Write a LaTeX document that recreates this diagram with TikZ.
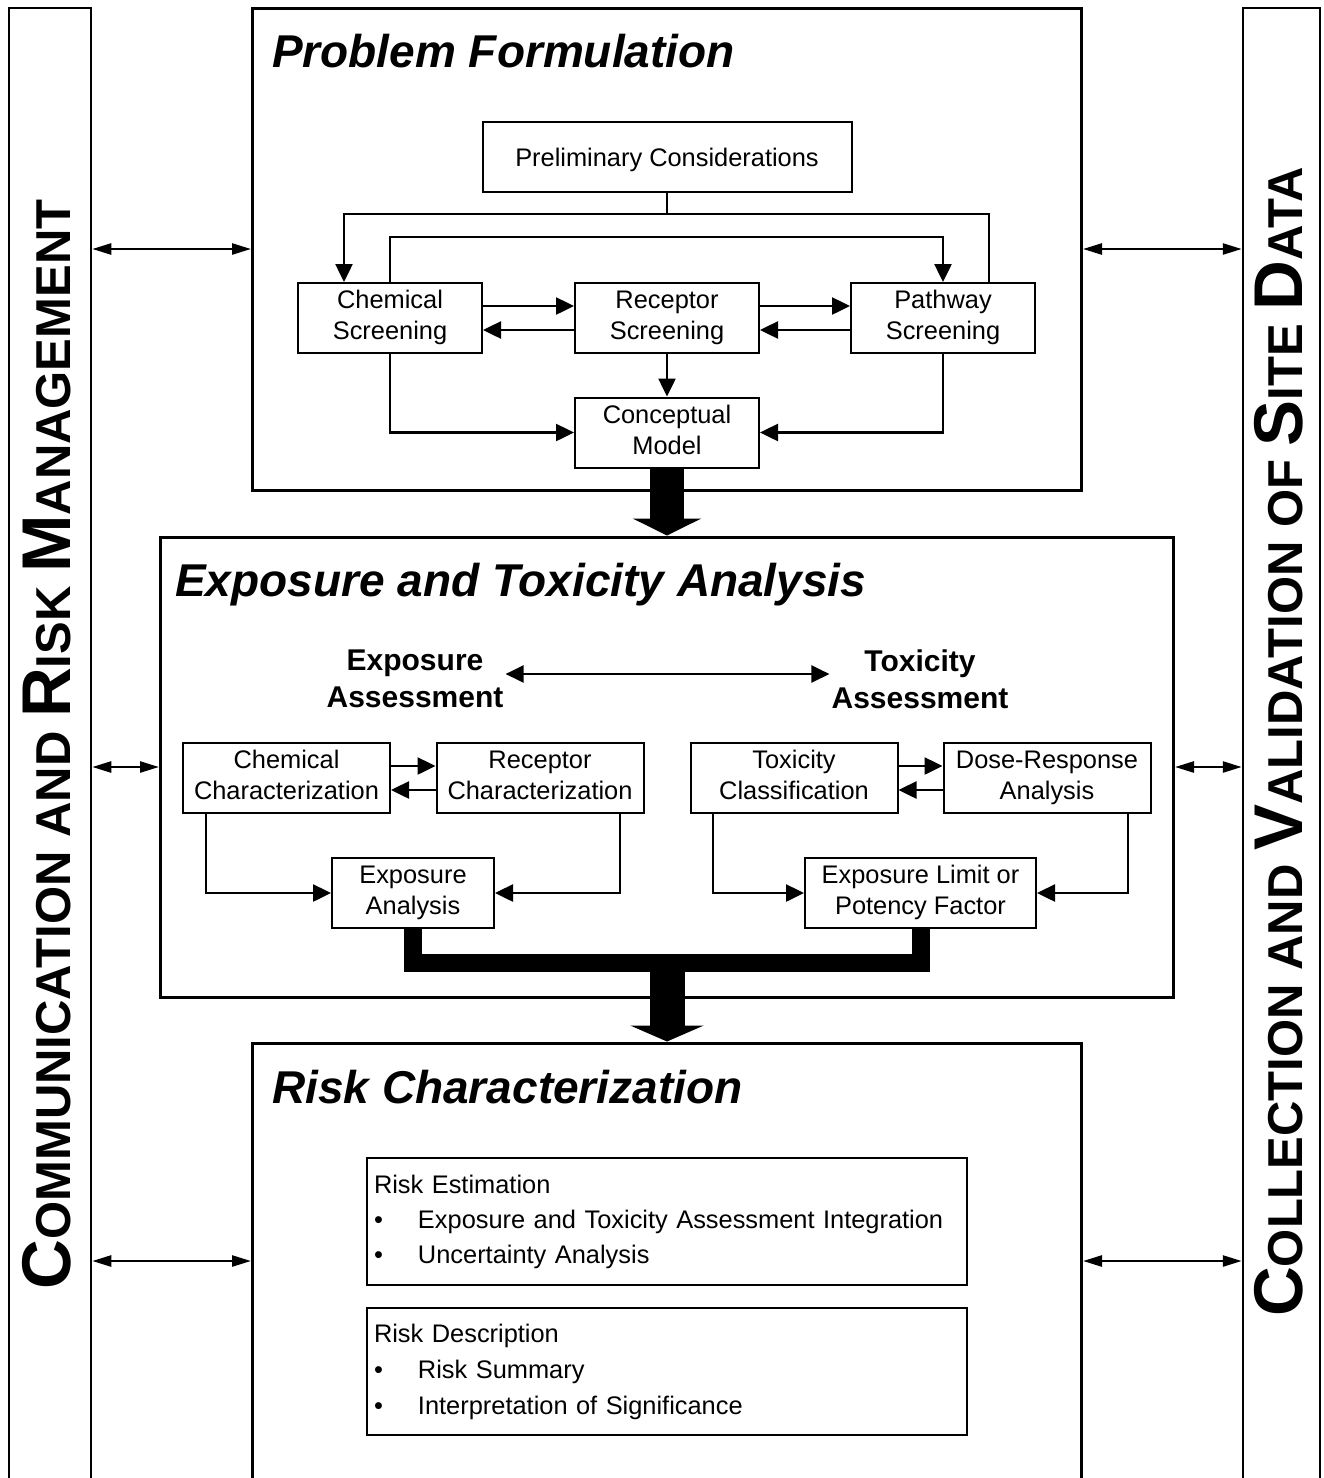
\documentclass[tikz,border=0pt]{standalone}
\usepackage{fontspec}
\setmainfont{Liberation Sans}
\usetikzlibrary{arrows.meta,calc}
\newcommand{\sbLg}[1]{{\fontsize{69}{70}\selectfont #1}}
\newcommand{\sbSm}[1]{{\fontsize{49}{50}\selectfont #1}}
\newcommand{\topstr}{\rule{0pt}{23.6pt}}
\newcommand{\botstr}{\rule[-5.5pt]{0pt}{5.5pt}}
\begin{document}
\begin{tikzpicture}[x=1pt,y=-1pt,
 outerbox/.style={draw, line width=3pt, inner sep=0pt},
 bar/.style={draw, line width=2.5pt, inner sep=0pt},
 nbox/.style={draw, line width=2pt, inner sep=0pt, align=center, font=\fontsize{25.4}{31}\selectfont, execute at begin node=\topstr, execute at end node=\botstr},
 conn/.style={line width=2.5pt, -{Triangle[length=18pt,width=17pt]}},
 dconn/.style={line width=2.5pt, {Triangle[length=18pt,width=17pt]}-{Triangle[length=18pt,width=17pt]}},
 link/.style={line width=2.5pt},
 side/.style={line width=2.5pt, {Triangle[length=19pt,width=11pt]}-{Triangle[length=19pt,width=11pt]}},
 ttl/.style={anchor=base west, inner sep=0pt, font=\fontsize{46}{50}\selectfont\bfseries\itshape},
 hd/.style={align=center, inner sep=2pt, font=\fontsize{30}{37}\selectfont\bfseries},
 rbox/.style={draw, line width=2pt, inner xsep=7pt, inner ysep=0pt, align=left, text width=586pt, minimum height=127pt, font=\fontsize{25.4}{35}\selectfont},
 vtext/.style={rotate=90, anchor=base, inner sep=0pt, font=\bfseries}
]
\useasboundingbox (0,0) rectangle (1323,1478);
\fill[white] (0,0) rectangle (1323,1478);

% side bars
\node[bar, minimum width=82pt, minimum height=1492pt] (lb) at (50,754) {};
\node[bar, minimum width=77pt, minimum height=1492pt] (rb) at (1281.5,754) {};
\node[vtext] (lt) at (70,744.5) {\sbLg{C}\sbSm{OMMUNICATION AND }\sbLg{R}\sbSm{ISK }\sbLg{M}\sbSm{ANAGEMENT}};
\node[vtext] (rt) at (1302,742) {\sbLg{C}\sbSm{OLLECTION AND }\sbLg{V}\sbSm{ALIDATION OF }\sbLg{S}\sbSm{ITE }\sbLg{D}\sbSm{ATA}};

% Problem formulation
\node[outerbox, minimum width=829pt, minimum height=482pt] (pf) at (667,249) {};
\node[ttl] (pft) at (272,67) {Problem Formulation};
\node[nbox, minimum width=369pt, minimum height=70pt, execute at begin node={}, execute at end node={}] (pc) at (667,157) {Preliminary Considerations};
\node[nbox, minimum width=184pt, minimum height=70pt] (cs) at (390,318) {Chemical\\Screening};
\node[nbox, minimum width=184pt, minimum height=70pt] (rs) at (667,318) {Receptor\\Screening};
\node[nbox, minimum width=184pt, minimum height=70pt] (ps) at (943,318) {Pathway\\Screening};
\node[nbox, minimum width=184pt, minimum height=70pt] (cm) at (667,432.5) {Conceptual\\Model};

\coordinate (j1) at (667,214);
\coordinate (j2) at (667,237);
\draw[conn] (pc.south) -- (j1) -| ([xshift=-46pt]cs.north);
\draw[link] ([xshift=46pt]ps.north) |- (j1);
\draw[conn] (cs.north) |- (j2) -| (ps.north);
\draw[conn] ([yshift=12pt]cs.east) -- ([yshift=12pt]rs.west);
\draw[conn] ([yshift=-12pt]rs.west) -- ([yshift=-12pt]cs.east);
\draw[conn] ([yshift=12pt]rs.east) -- ([yshift=12pt]ps.west);
\draw[conn] ([yshift=-12pt]ps.west) -- ([yshift=-12pt]rs.east);
\draw[conn] (rs.south) -- (cm.north);
\draw[conn] (cs.south) |- (cm.west);
\draw[conn] (ps.south) |- (cm.east);

% Exposure and toxicity analysis
\node[outerbox, minimum width=1013pt, minimum height=460pt] (et) at (667,767) {};
\node[ttl] (ett) at (175,596) {Exposure and Toxicity Analysis};
\node[hd] (eh) at (415,679) {Exposure\\Assessment};
\node[hd] (th) at (920,679) {Toxicity\\Assessment};
\draw[dconn] ([yshift=5pt]eh.east) -- ([yshift=5pt]th.west);

\node[nbox, minimum width=207pt, minimum height=70pt] (cc) at (286.5,778) {Chemical\\Characterization};
\node[nbox, minimum width=207pt, minimum height=70pt] (rc) at (540,778) {Receptor\\Characterization};
\node[nbox, minimum width=207pt, minimum height=70pt] (tc) at (794,778) {Toxicity\\Classification};
\node[nbox, minimum width=207pt, minimum height=70pt] (dr) at (1047,778) {Dose-Response\\Analysis};
\node[nbox, minimum width=162pt, minimum height=70pt] (ea) at (413,893) {Exposure\\Analysis};
\node[nbox, minimum width=231pt, minimum height=70pt] (el) at (920.5,893) {Exposure Limit or\\Potency Factor};

\draw[conn] ([yshift=12pt]cc.east) -- ([yshift=12pt]rc.west);
\draw[conn] ([yshift=-12pt]rc.west) -- ([yshift=-12pt]cc.east);
\draw[conn] ([yshift=12pt]tc.east) -- ([yshift=12pt]dr.west);
\draw[conn] ([yshift=-12pt]dr.west) -- ([yshift=-12pt]tc.east);
\draw[conn] ([xshift=-80.5pt]cc.south) |- (ea.west);
\draw[conn] ([xshift=80pt]rc.south) |- (ea.east);
\draw[conn] ([xshift=-81pt]tc.south) |- (el.west);
\draw[conn] ([xshift=81pt]dr.south) |- (el.east);

% Risk characterization
\node[outerbox, minimum width=829pt, minimum height=457pt] (rcb) at (667,1271.5) {};
\node[ttl] (rct) at (272,1103) {Risk Characterization};
\node[rbox] (re) at (667,1221.5) {Risk Estimation\\\makebox[44pt][l]{\textbullet}Exposure and Toxicity Assessment Integration\\\makebox[44pt][l]{\textbullet}Uncertainty Analysis};
\node[rbox, font=\fontsize{25.4}{36}\selectfont] (rd) at (667,1371.5) {Risk Description\\\makebox[44pt][l]{\textbullet}Risk Summary\\\makebox[44pt][l]{\textbullet}Interpretation of Significance};

% thick flow arrows
\draw[line width=34pt, -{Triangle[length=17pt,width=68pt]}] (cm.south) -- (et.north);
\coordinate (jm) at (667,962.5);
\draw[line width=18pt] (ea.south) |- (jm) -| (el.south);
\draw[line width=35pt, -{Triangle[length=16pt,width=73pt]}] (jm) -- (rcb.north);

% side arrows
\coordinate (ry) at (667,1261);
\draw[side] (lb.east |- pf.west) -- (pf.west);
\draw[side] (pf.east) -- (rb.west |- pf.east);
\draw[side] (lb.east |- et.west) -- (et.west);
\draw[side] (et.east) -- (rb.west |- et.east);
\draw[side] (lb.east |- ry) -- (rcb.west |- ry);
\draw[side] (rcb.east |- ry) -- (rb.west |- ry);
\end{tikzpicture}
\end{document}
